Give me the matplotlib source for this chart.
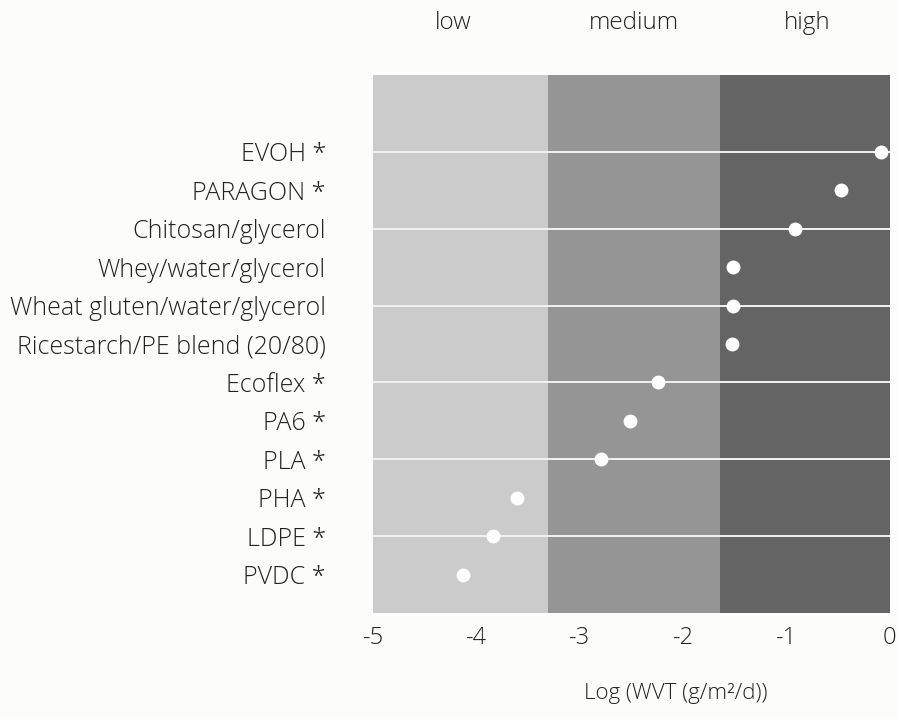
import matplotlib.pyplot as plt

# Materials, top to bottom, with log water vapour transmission
materials = ["EVOH *", "PARAGON *", "Chitosan/glycerol", "Whey/water/glycerol",
             "Wheat gluten/water/glycerol", "Ricestarch/PE blend (20/80)",
             "Ecoflex *", "PA6 *", "PLA *", "PHA *", "LDPE *", "PVDC *"]
log_wvt = [-0.09, -0.47, -0.92, -1.52, -1.52, -1.53,
           -2.24, -2.51, -2.79, -3.61, -3.84, -4.13]

# permeability bands
band_names = ["low", "medium", "high"]
band_edges = [-5, -3.31, -1.64, 0]
band_colors = ["#cbcbcb", "#959595", "#646464"]
band_label_x = [-4.22, -2.48, -0.8]

plt.rcParams['font.family'] = ['Open Sans', 'DejaVu Sans']
plt.rcParams['font.weight'] = 'light'
text_color = "#222222"

fig = plt.figure(figsize=(8.98, 7.19), dpi=100, facecolor="#fcfcfa")
ax = fig.add_axes([0.4154, 0.1474, 0.5756, 0.7483])

for i in range(3):
    ax.axvspan(band_edges[i], band_edges[i + 1], color=band_colors[i], lw=0, zorder=0)
    ax.text(band_label_x[i], 1.0 + 52 / 538, band_names[i], transform=ax.get_xaxis_transform(),
            ha="center", va="center", fontsize=17.5, color=text_color)

n = len(materials)
ypos = [n - 1 - i for i in range(n)]

# light guide lines on every other row
for i in range(0, n, 2):
    ax.axhline(ypos[i], color="#f2f2f2", lw=1.4, zorder=1)

ax.plot(log_wvt, ypos, "o", color="white", markersize=10, zorder=3, markeredgewidth=0)

ax.set_xlim(-5, 0)
ax.set_ylim(-1, n + 1)
ax.set_xticks([-5, -4, -3, -2, -1, 0])
ax.set_xticklabels(["-5", "-4", "-3", "-2", "-1", "0"], fontsize=17, color=text_color)
ax.set_yticks(ypos)
ax.set_yticklabels(materials, fontsize=18, color=text_color)
ax.tick_params(axis="x", length=0, pad=9)
ax.tick_params(axis="y", length=0, pad=34)
for s in ax.spines.values():
    s.set_visible(False)

ax.set_xlabel("Log (WVT (g/m²/d))", fontsize=16, fontweight="light", color=text_color)
ax.xaxis.set_label_coords(0.586, -0.13)

fig.savefig("out.png", dpi=100, facecolor=fig.get_facecolor())
